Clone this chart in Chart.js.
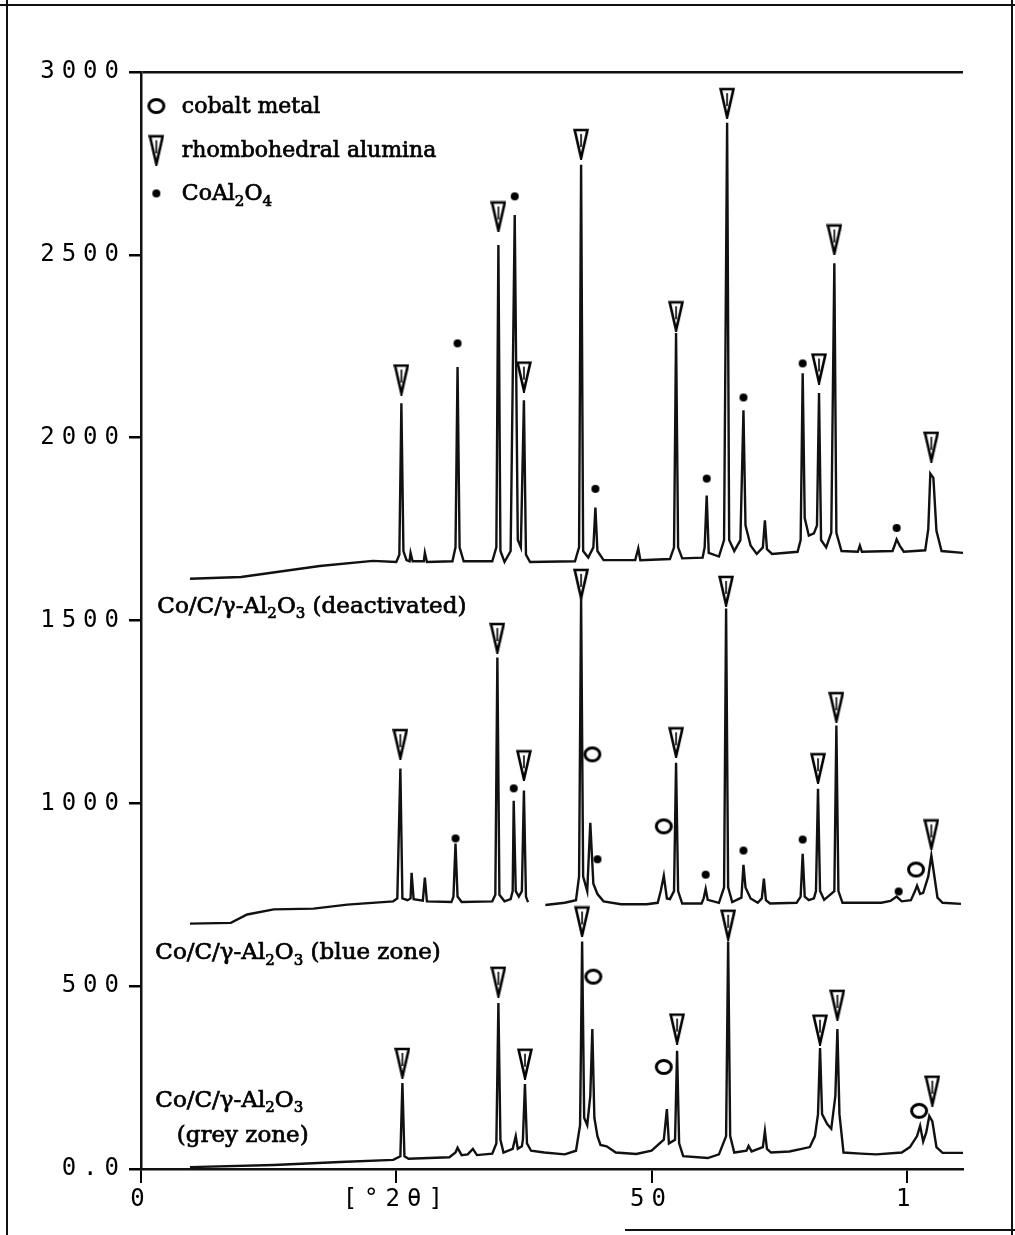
<!DOCTYPE html>
<html>
<head>
<meta charset="utf-8">
<script src="https://cdn.jsdelivr.net/npm/chart.js@4.4.1/dist/chart.umd.min.js"></script>
<style>
  html, body { margin: 0; padding: 0; background: #fff; }
  #wrap { width: 1015px; height: 1235px; }
</style>
</head>
<body>
<div id="wrap"><canvas id="xrd" width="1015" height="1235"></canvas></div>
<script>
// axis ticks
const xTickValues = [0, 25, 50, 75];
const xTickLabels = ['0', '[°2θ]', '50', '1'];
const yTickValues = [0, 500, 1000, 1500, 2000, 2500, 3000];
const yTickLabels = ['0.0', '500', '1000', '1500', '2000', '2500', '3000'];

// traces [x, counts]
const deactivated = [
  [4.8,1614],[9.8,1619],[14.7,1638],[17.5,1649],[22.7,1663],[25.0,1660],
  [25.3,1680],[25.5,2094],[25.7,1690],[26.0,1665],[26.3,1662],[26.4,1685],[26.6,1662],[27.7,1662],[27.8,1685],[28.0,1660],
  [30.5,1662],[30.8,1700],[31.0,2193],[31.2,1700],[31.6,1662],
  [34.4,1662],[34.8,1700],[35.0,2527],[35.2,1690],[35.6,1660],[36.2,1690],[36.6,2609],[36.9,1720],[37.2,1700],[37.5,2102],[37.7,1680],[38.1,1660],
  [42.5,1662],[42.9,1700],[43.1,2746],[43.3,1690],[43.8,1672],[44.3,1700],[44.5,1809],[44.7,1690],[45.3,1665],
  [48.4,1665],[48.7,1697],[48.9,1665],[51.8,1668],[52.2,1700],[52.4,2286],[52.6,1700],[53.0,1670],
  [55.0,1672],[55.2,1700],[55.4,1842],[55.6,1685],[56.6,1675],[57.1,1720],[57.4,2861],[57.6,1720],[58.1,1690],
  [58.7,1720],[59.0,2075],[59.2,1760],[59.7,1705],[60.3,1682],[60.9,1700],[61.1,1774],[61.3,1695],[61.8,1682],
  [64.3,1688],[64.6,1720],[64.8,2176],[65.0,1780],[65.4,1732],[65.9,1738],[66.2,1760],[66.4,2122],[66.6,1720],[67.1,1700],
  [67.6,1740],[67.9,2477],[68.1,1740],[68.6,1690],
  [70.2,1688],[70.4,1705],[70.6,1688],[73.6,1690],[73.8,1705],[74.0,1722],[74.3,1705],[74.7,1688],
  [76.8,1692],[77.1,1750],[77.3,1902],[77.6,1890],[77.9,1745],[78.4,1690],[80.5,1685]
];

const blueZone = [
  [4.8,671],[8.8,673],[10.4,696],[13.0,710],[16.9,712],[20.2,723],[24.7,732],
  [25.1,740],[25.4,1095],[25.6,740],[26.1,735],[26.4,740],[26.5,810],[26.7,738],[27.6,734],[27.8,797],[28.0,732],
  [30.4,730],[30.6,745],[30.8,890],[31.0,745],[31.4,730],[34.4,732],[34.7,750],[34.9,1399],[35.1,750],[35.6,732],
  [36.2,738],[36.4,760],[36.5,1007],[36.7,760],[37.0,745],[37.3,760],[37.5,1035],[37.7,745],[37.9,730],
  [38.7,null],
  [39.6,722],[41.5,728],[42.6,735],[42.9,800],[43.1,1563],[43.3,800],[43.7,760],[44.0,947],[44.3,780],[44.7,752],[45.3,732],[47.0,724],[49.5,724],
  [50.6,728],[50.9,760],[51.2,802],[51.5,740],[51.8,738],[52.2,760],[52.4,1111],[52.6,760],[53.0,726],
  [54.9,726],[55.1,740],[55.3,766],[55.5,736],[56.6,728],[57.1,770],[57.3,1533],[57.5,770],[57.9,730],
  [58.8,742],[59.0,832],[59.2,770],[59.7,740],[60.4,728],[60.8,740],[61.0,794],[61.2,735],[61.6,726],
  [64.2,728],[64.6,745],[64.8,862],[65.0,745],[65.4,735],[65.9,740],[66.1,760],[66.3,1040],[66.5,760],[66.9,736],
  [67.9,760],[68.1,1213],[68.3,760],[68.7,728],
  [72.5,728],[73.4,733],[74.0,745],[74.5,732],[75.4,735],[75.8,760],[76.0,775],[76.3,752],[76.6,755],
  [77.1,800],[77.4,857],[77.7,800],[78.0,742],[78.5,728],[80.3,725]
];

const greyZone = [
  [4.8,5],[13.0,11],[19.5,19],[24.7,25],[25.4,35],[25.6,235],[25.8,35],[26.2,28],[30.2,32],[30.8,45],[31.0,58],[31.4,38],
  [32.0,40],[32.5,55],[32.9,38],[34.4,42],
  [34.8,70],[35.0,454],[35.2,80],[35.5,45],[36.4,55],[36.7,90],[36.9,55],[37.3,62],[37.4,80],[37.6,232],[37.8,70],[38.2,50],
  [39.5,45],[41.5,40],[42.6,50],
  [43.0,120],[43.2,622],[43.4,140],[43.7,120],[44.0,200],[44.2,383],[44.4,140],[44.7,90],[45.0,66],[45.6,62],[46.5,45],[48.5,41],[50.0,50],
  [51.2,80],[51.5,164],[51.7,70],[52.3,80],[52.5,323],[52.7,70],[53.1,35],[55.5,30],[56.6,40],
  [57.3,90],[57.5,622],[57.7,90],[58.1,45],[59.3,50],[59.5,63],[59.8,48],[60.9,60],[61.1,104],[61.3,55],[61.7,45],
  [63.5,48],[64.7,55],[65.5,60],[66.0,90],
  [66.3,150],[66.5,331],[66.7,150],[67.2,123],[67.6,110],[68.0,200],[68.2,383],[68.4,150],[68.8,45],
  [70.5,42],[72.0,40],[74.5,45],[75.3,60],[76.0,90],[76.3,118],[76.6,75],[76.9,100],[77.2,145],[77.5,130],[77.9,60],[78.5,44],[80.5,44]
];

// peak markers [x, counts]
const aluminaMarks = [
  [25.5,2159],[35.0,2605],[37.5,2167],[43.1,2803],[52.4,2332],[57.4,2915],[66.4,2189],[67.9,2542],[77.4,1975],
  [25.4,1162],[34.9,1452],[37.5,1104],[43.1,1600],[52.4,1167],[57.3,1581],[66.3,1096],[68.1,1263],[77.4,915],
  [25.6,290],[35.0,512],[37.6,288],[43.2,677],[52.5,384],[57.5,668],[66.5,381],[68.2,449],[77.5,214]
];
const cobaltMarks = [[44.2,1134],[51.2,937],[75.9,819],[44.3,526],[51.2,279],[76.2,159]];
const spinelMarks = [
  [31.0,2258],[36.6,2660],[44.5,1860],[55.4,1888],[59.0,2110],[64.8,2203],[74.0,1753],
  [30.8,904],[36.5,1041],[44.7,847],[55.3,805],[59.0,871],[64.8,901],[74.2,759]
];

const toXY = arr => arr.map(p => ({ x: p[0], y: p[1] }));

function makeTriangle() {
  const c = document.createElement('canvas');
  c.width = 16; c.height = 32;
  const g = c.getContext('2d');
  g.lineWidth = 2.6; g.strokeStyle = '#000'; g.fillStyle = '#fff';
  g.beginPath(); g.moveTo(1.6, 2); g.lineTo(14.4, 2); g.lineTo(8, 30); g.closePath();
  g.fill(); g.stroke();
  g.lineWidth = 1.6;
  g.beginPath(); g.moveTo(8, 6); g.lineTo(8, 19); g.stroke();
  return c;
}
function makeCircle() {
  const c = document.createElement('canvas');
  c.width = 20; c.height = 18;
  const g = c.getContext('2d');
  g.lineWidth = 3; g.strokeStyle = '#000'; g.fillStyle = '#fff';
  g.beginPath(); g.ellipse(10, 9, 7.5, 6.5, 0, 0, Math.PI * 2); g.fill(); g.stroke();
  return c;
}
function makeDot() {
  const c = document.createElement('canvas');
  c.width = 10; c.height = 10;
  const g = c.getContext('2d');
  g.fillStyle = '#000';
  g.beginPath(); g.arc(5, 5, 4, 0, Math.PI * 2); g.fill();
  return c;
}
const triImg = makeTriangle(), circImg = makeCircle(), dotImg = makeDot();

// serif text with subscripts, slightly heavier like the scanned print
function richText(ctx, x, y, parts, size) {
  ctx.lineWidth = 0.7;
  ctx.strokeStyle = '#000';
  parts.forEach(function(p) {
    const sub = p[1];
    ctx.font = (sub ? Math.round(size * 0.66) : size) + 'px "DejaVu Serif"';
    const yy = sub ? y + size * 0.24 : y;
    ctx.fillText(p[0], x, yy);
    ctx.strokeText(p[0], x, yy);
    x += ctx.measureText(p[0]).width;
  });
}

const decor = {
  id: 'decor',
  beforeDraw(chart) {
    const c = chart.ctx;
    c.save();
    c.fillStyle = '#fff';
    c.fillRect(0, 0, chart.width, chart.height);
    c.strokeStyle = '#111';
    c.lineWidth = 2;
    c.beginPath();
    c.moveTo(7, 0); c.lineTo(7, 1235);
    c.moveTo(0, 5); c.lineTo(1015, 5);
    c.moveTo(1012, 0); c.lineTo(1012, 1235);
    c.moveTo(625, 1230); c.lineTo(1015, 1230);
    c.stroke();
    c.restore();
    c.letterSpacing = '7px';
  },
  afterDraw(chart) {
    const c = chart.ctx, xs = chart.scales.x, ys = chart.scales.y;
    c.save();
    c.letterSpacing = '0px';
    c.fillStyle = '#000';
    c.textBaseline = 'alphabetic';
    c.textAlign = 'left';

    // legend
    const lx = xs.getPixelForValue(1.5), tx = xs.getPixelForValue(4.0);
    const rows = [[2907, circImg, [['cobalt metal', 0]]],
                  [2786, triImg, [['rhombohedral alumina', 0]]],
                  [2668, dotImg, [['CoAl', 0], ['2', 1], ['O', 0], ['4', 1]]]];
    rows.forEach(function(r) {
      const y = ys.getPixelForValue(r[0]);
      c.drawImage(r[1], lx - r[1].width / 2, y - r[1].height / 2);
      richText(c, tx, y + 7, r[2], 22);
    });

    // sample labels
    const name = [['Co/C/γ-Al', 0], ['2', 1], ['O', 0], ['3', 1]];
    richText(c, xs.getPixelForValue(1.6), ys.getPixelForValue(1521), name.concat([[' (deactivated)', 0]]), 23);
    richText(c, xs.getPixelForValue(1.4), ys.getPixelForValue(573), name.concat([[' (blue zone)', 0]]), 23);
    richText(c, xs.getPixelForValue(1.4), ys.getPixelForValue(170), name, 23);
    richText(c, xs.getPixelForValue(3.5), ys.getPixelForValue(74), [['(grey zone)', 0]], 23);
    c.restore();
  }
};

const traceStyle = { borderColor: '#111', borderWidth: 2.4, pointRadius: 0, tension: 0, fill: false, spanGaps: false };
const markStyle = { type: 'scatter', showLine: false, pointRadius: 6, pointHoverRadius: 6 };

new Chart(document.getElementById('xrd'), {
  type: 'line',
  data: {
    datasets: [
      Object.assign({ label: 'Co/C/γ-Al2O3 (deactivated)', data: toXY(deactivated) }, traceStyle),
      Object.assign({ label: 'Co/C/γ-Al2O3 (blue zone)', data: toXY(blueZone) }, traceStyle),
      Object.assign({ label: 'Co/C/γ-Al2O3 (grey zone)', data: toXY(greyZone) }, traceStyle),
      Object.assign({ label: 'rhombohedral alumina', data: toXY(aluminaMarks), pointStyle: triImg }, markStyle),
      Object.assign({ label: 'cobalt metal', data: toXY(cobaltMarks), pointStyle: circImg }, markStyle),
      Object.assign({ label: 'CoAl2O4', data: toXY(spinelMarks), pointStyle: dotImg }, markStyle)
    ]
  },
  options: {
    responsive: false,
    animation: false,
    layout: { padding: { top: 72, right: 52, bottom: 0, left: 0 } },
    plugins: { legend: { display: false }, tooltip: { enabled: false } },
    scales: {
      x: {
        type: 'linear', min: 0, max: 80.5,
        afterFit: function(s) { s.height = 66; },
        afterBuildTicks: function(s) { s.ticks = xTickValues.map(v => ({ value: v })); },
        ticks: {
          autoSkip: false, maxRotation: 0, padding: 2, color: '#000',
          font: { family: '"DejaVu Sans Mono", monospace', size: 24 },
          callback: function(v) { const i = xTickValues.indexOf(v); return i < 0 ? '' : xTickLabels[i]; }
        },
        grid: { drawOnChartArea: false, color: '#000', tickColor: '#000', tickLength: 14, lineWidth: 2 },
        border: { display: true, color: '#111', width: 2.5 }
      },
      y: {
        min: 0, max: 3000,
        afterFit: function(s) { s.width = 141; },
        afterBuildTicks: function(s) { s.ticks = yTickValues.map(v => ({ value: v })); },
        ticks: {
          padding: 3, color: '#000',
          font: { family: '"DejaVu Sans Mono", monospace', size: 24 },
          callback: function(v) { const i = yTickValues.indexOf(v); return i < 0 ? '' : yTickLabels[i]; }
        },
        grid: {
          drawOnChartArea: true, tickLength: 12, lineWidth: 2.5, tickColor: '#000',
          color: function(ctx) { return ctx.tick && ctx.tick.value === 3000 ? '#111' : 'rgba(0,0,0,0)'; }
        },
        border: { display: true, color: '#111', width: 2.5 }
      }
    }
  },
  plugins: [decor]
});
</script>
</body>
</html>
